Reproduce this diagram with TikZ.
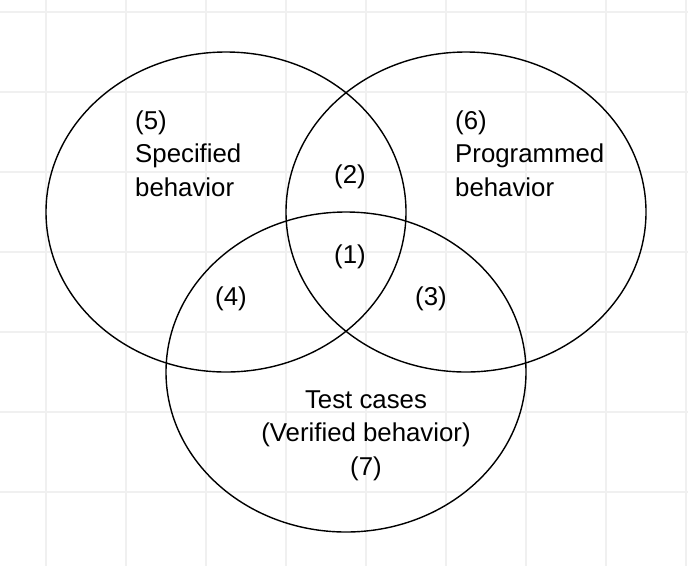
\documentclass[tikz,border=0pt]{standalone}
\usepackage{fontspec}
\setmainfont{Liberation Sans}
\begin{document}
\begin{tikzpicture}[x=1pt,y=-1pt,
  gridline/.style={draw=black!6,line width=1.5pt},
  setshape/.style={draw=black,line width=1.4pt},
  lbl/.style={inner sep=0pt,font=\fontsize{25.8}{33.5}\selectfont}]
\useasboundingbox[fill=white] (0,0) rectangle (688,566);
% background grid
\foreach \gx in {46,126,...,686} \draw[gridline] (\gx,0) -- (\gx,566);
\foreach \gy in {12,92,...,572} \draw[gridline] (0,\gy) -- (688,\gy);
% sets
\draw[setshape] (226,212) ellipse [x radius=180,y radius=160];
\draw[setshape] (466,212) ellipse [x radius=180,y radius=160];
\draw[setshape] (346,372) ellipse [x radius=180,y radius=160];
% labels (base anchor = baseline of the last line)
\node[lbl,anchor=base west,align=left] (spec) at (135,196) {(5)\\Specified\\behavior};
\node[lbl,anchor=base west,align=left] (prog) at (455,196) {(6)\\Programmed\\behavior};
\node[lbl,anchor=base] (r2) at (350,183) {(2)};
\node[lbl,anchor=base] (r1) at (350,263) {(1)};
\node[lbl,anchor=base] (r4) at (231,305) {(4)};
\node[lbl,anchor=base] (r3) at (431,305) {(3)};
\node[lbl,anchor=base,align=center] (test) at (366,475) {Test cases\\(Verified behavior)\\(7)};
\end{tikzpicture}
\end{document}
